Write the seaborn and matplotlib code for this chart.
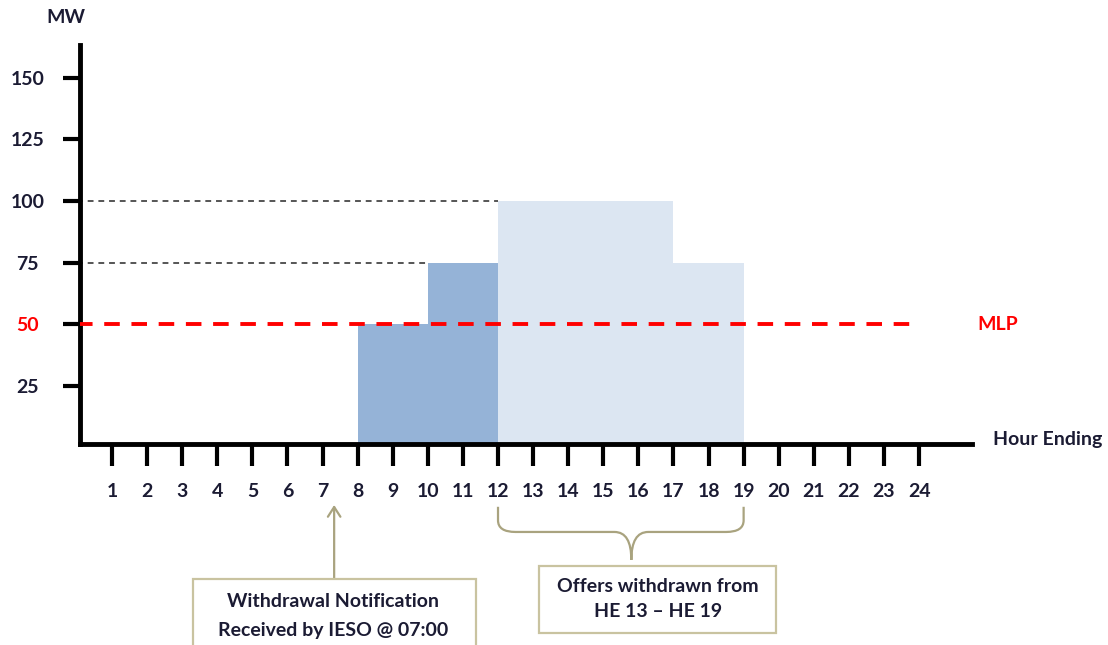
import pandas as pd
import matplotlib.pyplot as plt
import matplotlib.transforms as mtransforms
import seaborn as sns
from matplotlib.path import Path
from matplotlib.patches import PathPatch, Rectangle

# Данные: часы (Hour Ending), мощность и статус предложения
hours = [9, 10, 11, 12, 13, 14, 15, 16, 17, 18, 19]
mw = [50, 50, 75, 75, 100, 100, 100, 100, 100, 75, 75]
status = ["Scheduled"] * 4 + ["Withdrawn"] * 7
tick_hours = list(range(1, 25))
y_ticks = [25, 50, 75, 100, 125, 150]
mlp = 50
guide_levels = [100, 75]
guide_ends = [12, 10]
withdrawn_span = (12, 19)

sns.set_style("white")
plt.rcParams["font.family"] = ["Lato", "DejaVu Sans"]
plt.rcParams["font.weight"] = "bold"

W, H = 1108, 645
ink = "#1b1b33"
olive = "#a9a37f"
box_edge = "#c9c3a0"
fs = 14


def fig_xy(x, y):
    # пиксели (от верхнего левого угла) -> доли фигуры
    return x / W, 1 - y / H


df = pd.DataFrame({"hour": hours, "mw": mw, "status": status})
df["mid"] = df["hour"] - 0.5

fig = plt.figure(figsize=(W / 100, H / 100), dpi=100)
ax = fig.add_axes([0.0718, 0.3109, 0.8055, 0.6194])

sns.barplot(data=df, x="mid", y="mw", hue="status", native_scale=True,
            dodge=False, width=1, saturation=1, errorbar=None, legend=False,
            palette={"Scheduled": "#95b3d7", "Withdrawn": "#dce6f2"},
            linewidth=0, zorder=2, ax=ax)

# Пунктирные направляющие
for lvl, end in zip(guide_levels, guide_ends):
    ax.hlines(lvl, 0, end, colors="#555555", lw=1.4,
              linestyles=(0, (3, 2.5)), zorder=1)
ax.hlines(mlp, 0, tick_hours[-1], colors="red", lw=2.8,
          linestyles=(0, (4, 3)), zorder=3)

ax.set_xlim(0.074, 25.51)
ax.set_ylim(1.4, 163.2)
ax.set_xticks(tick_hours)
ax.set_xticklabels([str(h) for h in tick_hours])
ax.set_yticks(y_ticks)
ax.set_yticklabels([str(v) for v in y_ticks])

for side in ["top", "right"]:
    ax.spines[side].set_visible(False)
for side in ["left", "bottom"]:
    ax.spines[side].set_linewidth(3.5)
    ax.spines[side].set_color("black")
    ax.spines[side].set_capstyle("projecting")

ax.tick_params(axis="x", bottom=True, length=16, width=3, direction="out",
               pad=12, labelsize=fs, labelcolor=ink, color="black")
ax.tick_params(axis="y", left=True, length=12.6, width=3, direction="out",
               pad=25, labelsize=fs, labelcolor=ink, color="black")
for lab in ax.get_xticklabels() + ax.get_yticklabels():
    lab.set_fontweight("bold")
for lab in ax.get_yticklabels():
    lab.set_horizontalalignment("center")
    if lab.get_text() == str(mlp):
        lab.set_color("red")

ax.set_xlabel("Hour Ending", fontsize=fs, fontweight="bold", color=ink,
              ha="left", va="center")
ax.xaxis.set_label_coords(1.0235, 0.0113)
ax.set_ylabel("MW", fontsize=fs, fontweight="bold", color=ink, rotation=0,
              ha="center", va="center")
ax.yaxis.set_label_coords(-0.0151, 1.0676)

ax.text(25.65, mlp, "MLP", color="red", fontsize=fs, fontweight="bold",
        ha="left", va="center", clip_on=False)

# Фигурная скобка под часами 13-19
trans = mtransforms.blended_transform_factory(ax.transData, ax.transAxes)
x0, x1 = withdrawn_span
xm = 15.8
y_top, y_bend, y_h, y_tip = -0.156, -0.19, -0.219, -0.289
r, r2 = 0.5, 0.48
verts = [(x0, y_top), (x0, y_bend), (x0, y_h), (x0 + r, y_h),
         (xm - r2, y_h), (xm, y_h), (xm, y_tip),
         (xm, y_h), (xm + r2, y_h),
         (x1 - r, y_h), (x1, y_h), (x1, y_bend), (x1, y_top)]
codes = [Path.MOVETO, Path.LINETO, Path.CURVE3, Path.CURVE3,
         Path.LINETO, Path.CURVE3, Path.CURVE3,
         Path.CURVE3, Path.CURVE3,
         Path.LINETO, Path.CURVE3, Path.CURVE3, Path.LINETO]
ax.add_patch(PathPatch(Path(verts, codes), facecolor="none", edgecolor=olive,
                       lw=1.6, transform=trans, clip_on=False))

# Стрелка уведомления
ax.annotate("", xy=(7.33, -0.1514), xytext=(7.33, -0.3367),
            xycoords=trans, textcoords=trans,
            arrowprops=dict(arrowstyle="->,head_length=0.7,head_width=0.45",
                            color=olive, lw=1.6, shrinkA=0, shrinkB=0,
                            mutation_scale=10))

# Рамки с подписями
bx, by = fig_xy(193, 579)
fig.add_artist(Rectangle((bx, -0.05), (476 - 193) / W, by + 0.05,
                         transform=fig.transFigure, facecolor="white",
                         edgecolor=box_edge, lw=1.6, clip_on=False))
tx, ty = fig_xy(333, 616)
fig.text(tx, ty, "Withdrawal Notification\nReceived by IESO @ 07:00",
         ha="center", va="center", fontsize=fs, fontweight="bold", color=ink,
         linespacing=1.8)

bx, by = fig_xy(539, 633)
fig.add_artist(Rectangle((bx, by), (776 - 539) / W, (633 - 566) / H,
                         transform=fig.transFigure, facecolor="white",
                         edgecolor=box_edge, lw=1.6))
tx, ty = fig_xy(658, 599)
fig.text(tx, ty, "Offers withdrawn from\nHE 13 \u2013 HE 19",
         ha="center", va="center", fontsize=fs, fontweight="bold", color=ink,
         linespacing=1.6)

fig.savefig("out.png", dpi=100)
